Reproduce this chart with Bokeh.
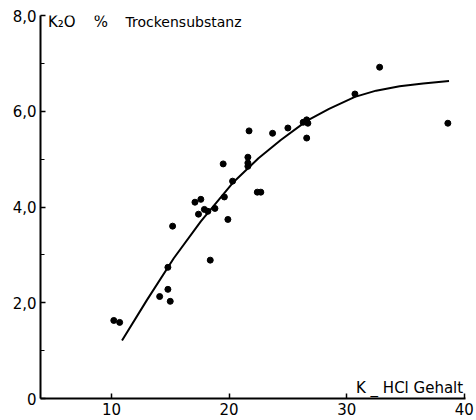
from bokeh.plotting import figure
from bokeh.models import FixedTicker, Range1d, Label
from bokeh.embed import file_html
from bokeh.resources import INLINE

# scatter data: K-HCl content vs K2O % dry matter
x_pts = [10.2, 10.7, 14.1, 14.8, 15.0, 14.8, 15.2, 17.1, 17.6, 17.4, 17.9, 18.2,
         18.8, 18.4, 19.6, 19.9, 19.5, 20.3, 21.6, 21.6, 21.6, 22.4, 22.7, 21.7,
         23.7, 25.0, 26.6, 26.7, 26.3, 26.6, 30.7, 32.8, 38.6]
y_pts = [1.63, 1.59, 2.13, 2.28, 2.03, 2.74, 3.60, 4.10, 4.16, 3.85, 3.95, 3.91,
         3.97, 2.89, 4.21, 3.74, 4.90, 4.54, 5.04, 4.92, 4.85, 4.31, 4.31, 5.59,
         5.54, 5.65, 5.82, 5.75, 5.77, 5.44, 6.36, 6.92, 5.75]

# fitted curve
curve_x = [10.9, 13.0, 15.3, 17.6, 20.3, 22.5, 24.4, 26.6, 28.5, 30.7, 32.5, 34.5, 36.5, 38.7]
curve_y = [1.21, 2.05, 2.93, 3.70, 4.50, 5.02, 5.40, 5.80, 6.05, 6.30, 6.43, 6.52, 6.58, 6.63]

x_ticks = [10, 20, 30, 40]
x_tick_labels = ["10", "20", "30", "40"]
y_ticks = [0, 2, 4, 6, 8]
y_tick_labels = ["0", "2,0", "4,0", "6,0", "8,0"]
y_minor = [1, 3, 5, 7]

FONT = "DejaVu Sans"

p = figure(width=476, height=420, output_backend="svg", toolbar_location=None,
           x_range=Range1d(3.97, 40.1), y_range=Range1d(0, 8.0),
           min_border_left=40, min_border_right=11, min_border_top=15,
           min_border_bottom=22)
p.outline_line_color = None
p.xgrid.visible = False
p.ygrid.visible = False
p.background_fill_color = "white"
p.border_fill_color = "white"

for ax in (p.xaxis[0], p.yaxis[0]):
    ax.axis_line_width = 2
    ax.axis_line_color = "black"
    ax.major_tick_in = 5
    ax.major_tick_out = 0
    ax.major_tick_line_width = 1.5
    ax.major_tick_line_color = "black"
    ax.minor_tick_in = 4
    ax.minor_tick_out = 0
    ax.minor_tick_line_color = "black"
    ax.major_label_text_font = FONT
    ax.major_label_text_font_size = "15px"
    ax.major_label_text_color = "black"
    ax.major_label_standoff = 4

p.xaxis[0].ticker = FixedTicker(ticks=x_ticks)
p.xaxis[0].major_label_overrides = {t: l for t, l in zip(x_ticks, x_tick_labels)}
p.xaxis[0].minor_tick_line_color = None
p.yaxis[0].ticker = FixedTicker(ticks=y_ticks, minor_ticks=y_minor)
p.yaxis[0].major_label_overrides = {t: l for t, l in zip(y_ticks, y_tick_labels)}

p.line(curve_x, curve_y, line_color="black", line_width=2)
p.scatter(x_pts, y_pts, size=6, color="black")

p.add_layout(Label(x=4.6, y=7.86, text="K₂O", text_font=FONT, text_font_size="15px",
                   text_color="black", text_baseline="alphabetic"))
p.add_layout(Label(x=8.5, y=7.86, text="%", text_font=FONT, text_font_size="15px",
                   text_color="black", text_baseline="alphabetic"))
p.add_layout(Label(x=11.2, y=7.87, text="Trockensubstanz", text_font=FONT,
                   text_font_size="14px", text_color="black", text_baseline="alphabetic"))
p.add_layout(Label(x=39.9, y=0.21, text="K _ HCl Gehalt", text_font=FONT,
                   text_font_size="15px", text_color="black", text_align="right",
                   text_baseline="alphabetic"))

open("out.html", "w").write(file_html(p, INLINE))
